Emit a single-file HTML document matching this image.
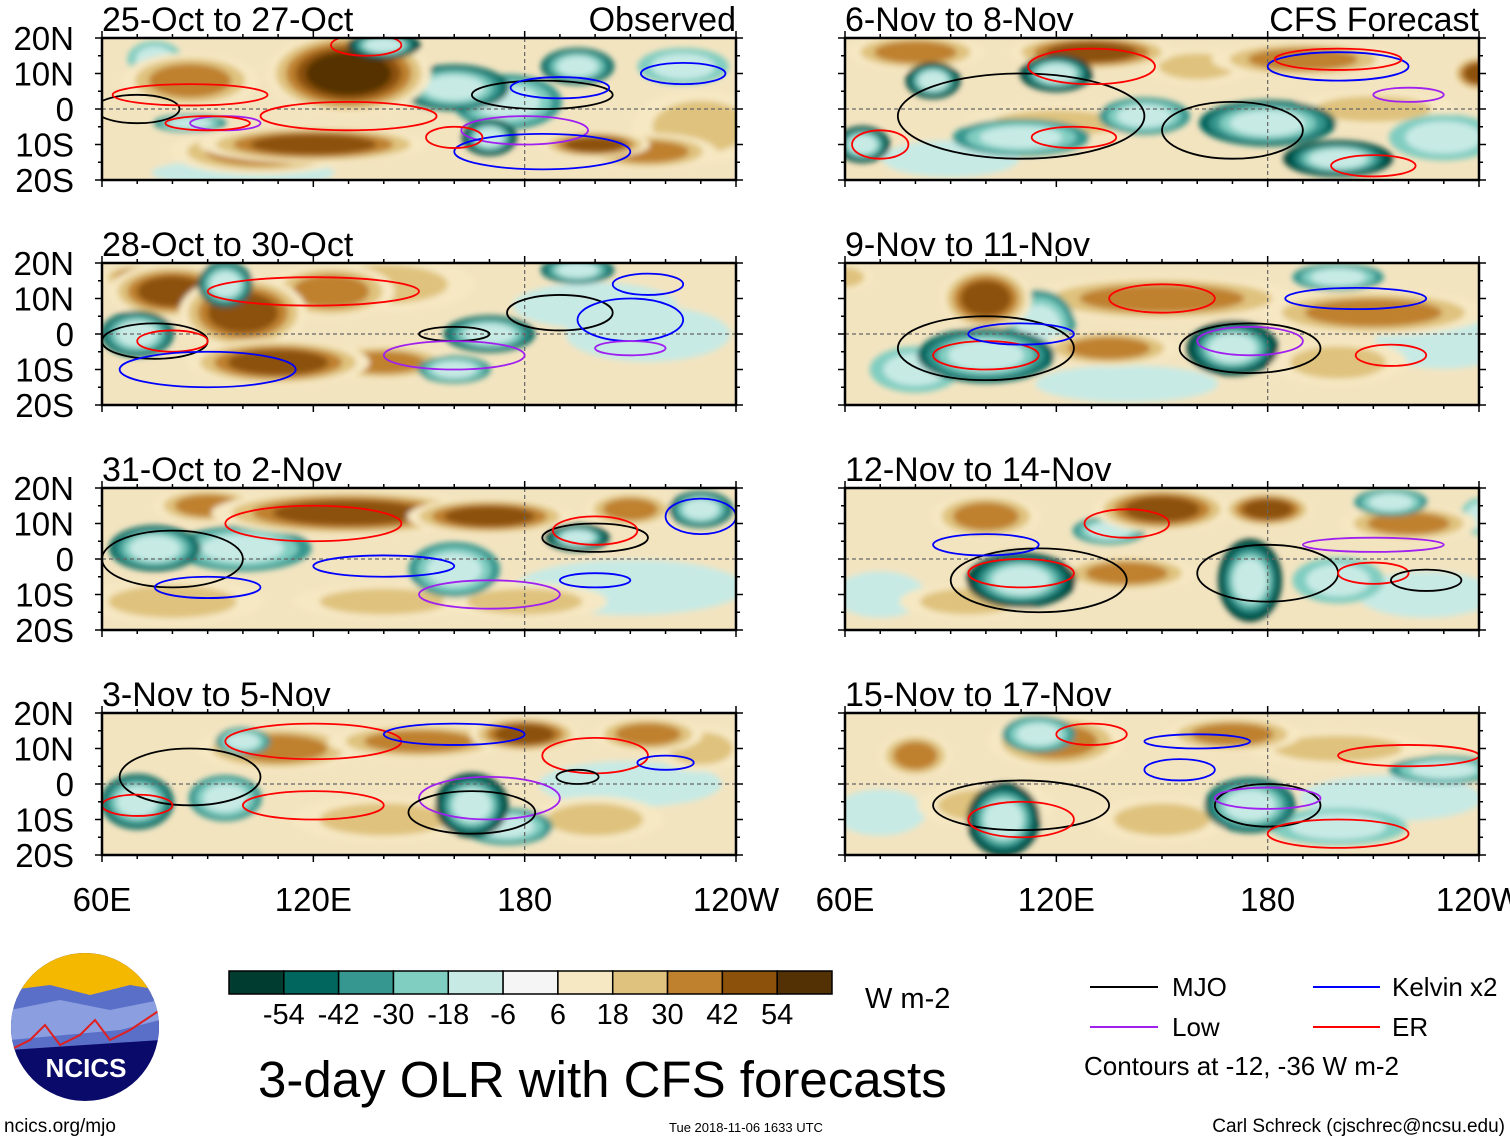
<!DOCTYPE html>
<html><head><meta charset="utf-8">
<style>
body{margin:0;background:#fff;width:1510px;height:1142px;overflow:hidden;font-family:"Liberation Sans",sans-serif}
svg text{font-family:"Liberation Sans",sans-serif}
</style></head>
<body>
<svg id="chart" width="1510" height="1142" xmlns="http://www.w3.org/2000/svg">
<defs>
<filter id="blur" x="-20%" y="-20%" width="140%" height="140%"><feGaussianBlur stdDeviation="3"/></filter>
</defs>
<g id="panels"></g>
<g id="legend">
<line x1="1090" y1="987" x2="1158" y2="987" stroke="#000" stroke-width="2"/>
<text x="1172" y="996" font-size="26">MJO</text>
<line x1="1313" y1="987" x2="1380" y2="987" stroke="#0000ff" stroke-width="2"/>
<text x="1392" y="996" font-size="26">Kelvin x2</text>
<line x1="1090" y1="1027" x2="1158" y2="1027" stroke="#a020f0" stroke-width="2"/>
<text x="1172" y="1036" font-size="26">Low</text>
<line x1="1313" y1="1027" x2="1380" y2="1027" stroke="#ff0000" stroke-width="2"/>
<text x="1392" y="1036" font-size="26">ER</text>
<text x="1084" y="1075" font-size="26">Contours at -12, -36 W m-2</text>
</g>
<g id="colorbar"></g>
<text x="865" y="1008" font-size="29">W m-2</text>
<text x="258" y="1097" font-size="51">3-day OLR with CFS forecasts</text>
<text x="4" y="1132" font-size="19">ncics.org/mjo</text>
<text x="669" y="1132" font-size="13">Tue 2018-11-06 1633 UTC</text>
<text x="1505" y="1132" font-size="19" text-anchor="end">Carl Schreck (cjschrec@ncsu.edu)</text>
<g id="logo">
<clipPath id="lc"><ellipse cx="85" cy="1027" rx="74" ry="74"/></clipPath>
<g clip-path="url(#lc)">
<rect x="10" y="952" width="150" height="150" fill="#0a0a6a"/>
<rect x="10" y="952" width="150" height="45" fill="#f5b800"/>
<polygon points="10,990 50,985 90,995 130,985 160,990 160,1040 10,1050" fill="#5a6fc8"/>
<polygon points="10,1010 60,1000 110,1010 160,1000 160,1020 120,1030 10,1040" fill="#8a9ee0"/>
<polyline points="10,1050 30,1040 45,1025 60,1045 80,1035 95,1020 110,1040 130,1030 160,1010" fill="none" stroke="#e02020" stroke-width="2"/>
</g>
<text x="86" y="1077" font-size="26" font-weight="bold" fill="#fff" text-anchor="middle">NCICS</text>
</g>
</svg>
<script>
const cbLevels = [-54,-42,-30,-18,-6,6,18,30,42,54];
const cbColors = ["#003c30","#01665e","#35978f","#80cdc1","#c7eae5","#f5f5f5","#f6e8c3","#dfc27d","#bf812d","#8c510a","#543005"];
const panelTitles = ["25-Oct to 27-Oct","28-Oct to 30-Oct","31-Oct to 2-Nov","3-Nov to 5-Nov","6-Nov to 8-Nov","9-Nov to 11-Nov","12-Nov to 14-Nov","15-Nov to 17-Nov"];
const latTicks = ["20N","10N","0","10S","20S"];
const lonTicks = ["60E","120E","180","120W"];
// blobs: [lon, lat, value, halfWidthDeg, halfHeightDeg]
const blobs0 = [[85,8,30,15,6],[130,10,54,18,9],[120,-10,42,25,4],[105,-12,30,20,5],[140,18,-54,8,3],[160,6,-42,12,5],[170,-8,-54,6,4],[175,2,-30,12,6],[195,12,-42,8,4],[200,-10,42,12,3],[215,-12,30,15,4],[230,-5,18,15,8],[85,-4,-30,8,2],[75,14,-18,6,4],[100,-18,-6,20,3],[225,12,-18,10,4]];
const blobs1 = [[80,12,42,14,6],[100,6,42,14,8],[125,12,30,14,6],[110,-8,42,20,5],[140,-8,30,15,4],[70,0,-42,8,5],[95,14,-42,6,5],[170,0,-42,10,4],[195,18,-42,8,3],[160,-10,-30,8,3],[140,14,18,20,6],[215,0,-6,18,6],[70,16,30,8,3],[200,8,-6,18,5]];
const blobs2 = [[130,13,42,30,5],[170,12,42,18,4],[110,13,30,15,4],[90,15,30,12,4],[75,3,-42,10,5],[100,3,-30,15,5],[160,-3,-30,10,6],[195,6,-54,7,3],[230,14,-42,7,4],[210,14,30,10,4],[80,-12,18,20,5],[140,-12,18,20,4],[180,-12,18,18,4],[210,-8,-6,25,6]];
const blobs3 = [[110,10,30,18,5],[150,12,30,20,4],[180,14,42,12,4],[215,14,30,12,4],[70,-5,-42,8,6],[95,-4,-30,8,5],[165,-6,-54,8,7],[175,-12,-30,10,4],[100,12,-30,6,3],[140,-10,18,20,5],[200,-10,18,15,5],[230,10,18,10,5],[210,0,-6,20,5]];
const blobs4 = [[80,16,30,15,4],[130,16,42,18,4],[190,14,30,20,4],[240,10,42,6,4],[85,8,-54,6,4],[120,10,-54,8,4],[145,-2,-30,10,4],[180,-4,-42,15,5],[200,-14,-54,12,4],[65,-10,-54,6,4],[110,-8,-30,15,4],[120,-4,18,20,4],[210,0,18,18,4],[160,12,18,12,4],[230,-8,-18,12,5],[90,-14,-6,15,4]];
const blobs5 = [[100,10,42,10,7],[150,10,30,30,5],[210,6,30,25,5],[100,-6,-42,15,6],[115,2,-30,8,8],[170,-4,-54,10,6],[200,16,-30,10,3],[135,-4,30,15,4],[80,-10,-18,10,5],[200,-8,18,15,5],[60,16,18,6,3],[230,-2,-6,15,6],[140,-14,-6,20,4]];
const blobs6 = [[100,12,30,12,5],[150,14,42,15,5],[180,14,42,10,4],[220,10,30,15,4],[110,-6,-54,12,6],[175,-6,-54,7,9],[200,-6,-18,10,5],[135,8,-30,8,3],[215,16,-30,8,3],[140,-4,30,15,4],[95,-12,18,15,4],[240,12,-18,4,4],[225,-10,-6,15,5],[70,-10,-6,10,5]];
const blobs7 = [[120,12,30,15,6],[170,14,30,15,4],[80,8,30,8,5],[100,-6,18,15,5],[105,-10,-54,8,8],[175,-6,-42,10,6],[115,14,-30,8,4],[230,4,-30,12,3],[200,-12,-18,15,4],[150,-10,18,15,5],[200,10,18,20,4],[215,-4,-6,20,5],[70,-8,-6,10,5]];
const allBlobs = [blobs0,blobs1,blobs2,blobs3,blobs4,blobs5,blobs6,blobs7];
// contours: [lon, lat, halfWidthDeg, halfHeightDeg, type]
const cont0 = [[70,0,12,4,"m"],[85,4,22,3,"e"],[95,-4,10,2,"l"],[90,-4,12,2,"e"],[130,-2,25,4,"e"],[135,18,10,3,"e"],[185,4,20,4,"m"],[190,6,14,3,"k"],[180,-6,18,4,"l"],[185,-12,25,5,"k"],[160,-8,8,3,"e"],[225,10,12,3,"k"]];
const cont1 = [[75,-2,15,5,"m"],[80,-2,10,3,"e"],[120,12,30,4,"e"],[190,6,15,5,"m"],[210,4,15,6,"k"],[160,0,10,2,"m"],[210,-4,10,2,"l"],[160,-6,20,4,"l"],[90,-10,25,5,"k"],[215,14,10,3,"k"]];
const cont2 = [[80,0,20,8,"m"],[120,10,25,5,"e"],[200,6,15,4,"m"],[200,8,12,4,"e"],[140,-2,20,3,"k"],[170,-10,20,4,"l"],[90,-8,15,3,"k"],[200,-6,10,2,"k"],[230,12,10,5,"k"]];
const cont3 = [[85,2,20,8,"m"],[120,12,25,5,"e"],[200,8,15,5,"e"],[160,14,20,3,"k"],[170,-4,20,6,"l"],[165,-8,18,6,"m"],[120,-6,20,4,"e"],[70,-6,10,3,"e"],[195,2,6,2,"m"],[220,6,8,2,"k"]];
const cont4 = [[110,-2,35,12,"m"],[170,-6,20,8,"m"],[130,12,18,5,"e"],[200,12,20,4,"k"],[200,14,18,3,"e"],[220,4,10,2,"l"],[125,-8,12,3,"e"],[210,-16,12,3,"e"],[70,-10,8,4,"e"]];
const cont5 = [[100,-4,25,9,"m"],[175,-4,20,7,"m"],[150,10,15,4,"e"],[205,10,20,3,"k"],[100,-6,15,4,"e"],[215,-6,10,3,"e"],[110,0,15,3,"k"],[175,-2,15,4,"l"]];
const cont6 = [[115,-6,25,9,"m"],[180,-4,20,8,"m"],[140,10,12,4,"e"],[210,-4,10,3,"e"],[210,4,20,2,"l"],[100,4,15,3,"k"],[110,-4,15,4,"e"],[225,-6,10,3,"m"]];
const cont7 = [[110,-6,25,7,"m"],[180,-6,15,6,"m"],[110,-10,15,5,"e"],[130,14,10,3,"e"],[155,4,10,3,"k"],[160,12,15,2,"k"],[220,8,20,3,"e"],[180,-4,15,3,"l"],[200,-14,20,4,"e"]];
const allConts = [cont0,cont1,cont2,cont3,cont4,cont5,cont6,cont7];

const NS="http://www.w3.org/2000/svg";
function mk(tag,attrs,parent){const e=document.createElementNS(NS,tag);for(const k in attrs)e.setAttribute(k,attrs[k]);if(parent)parent.appendChild(e);return e;}
function colorFor(v){let i=0;while(i<cbLevels.length&&v>cbLevels[i])i++;return cbColors[i];}
const PW=634,PH=142;
const contColor={m:"#000",k:"#0000ff",l:"#a020f0",e:"#ff0000"};
const panelsG=document.getElementById('panels');
for(let p=0;p<8;p++){
  const col=Math.floor(p/4),row=p%4;
  const x0=col?845:102, y0=[38,263,488,713][row];
  const xs=lon=>x0+(lon-60)/180*PW;
  const ys=lat=>y0+(20-lat)/40*PH;
  const g=mk('g',{},panelsG);
  
  
  const cid='clip'+p;
  const cp=mk('clipPath',{id:cid},g);mk('rect',{x:x0,y:y0,width:PW,height:PH},cp);
  const inner=mk('g',{'clip-path':'url(#'+cid+')'},g);
  mk('rect',{x:x0,y:y0,width:PW,height:PH,fill:"#f3e4c0"},inner);
  const bg=mk('g',{filter:'url(#blur)'},inner);
  const bl=allBlobs[p].slice().sort((a,b)=>Math.abs(a[2])-Math.abs(b[2]));
  for(const b of bl){
    const steps=cbLevels.filter(l=> b[2]>0 ? (l>0&&l<=b[2]) : (l<0&&l>=b[2]));
    const n=Math.max(1,steps.length);
    for(let s=0;s<n;s++){
      const f=1.3*(1-0.6*s/n);
      const val=b[2]>0?steps[s]+1:steps[s]-1;
      const e=mk('ellipse',{cx:xs(b[0]),cy:ys(b[1]),rx:b[3]*PW/180*f,ry:b[4]*PH/40*f,fill:colorFor(val)},bg);
      
      
    }
  }
  mk('line',{x1:x0,y1:ys(0),x2:x0+PW,y2:ys(0),stroke:"#666","stroke-dasharray":"4,3","stroke-width":1.2},inner);
  mk('line',{x1:xs(180),y1:y0,x2:xs(180),y2:y0+PH,stroke:"#666","stroke-dasharray":"4,3","stroke-width":1.2},inner);
  for(const c of allConts[p]){
    const e=mk('ellipse',{cx:xs(c[0]),cy:ys(c[1]),rx:c[2]*PW/180,ry:c[3]*PH/40,fill:"none",stroke:contColor[c[4]],"stroke-width":1.8},inner);
    
    
  }
  mk('rect',{x:x0,y:y0,width:PW,height:PH,fill:"none",stroke:"#000","stroke-width":2.5},g);
  for(let lon=60;lon<=240;lon+=10){const big=lon%60===0;
    mk('line',{x1:xs(lon),y1:y0,x2:xs(lon),y2:y0-(big?7:4),stroke:"#000","stroke-width":1.5},g);
    mk('line',{x1:xs(lon),y1:y0+PH,x2:xs(lon),y2:y0+PH+(big?7:4),stroke:"#000","stroke-width":1.5},g);}
  for(let lat=-20;lat<=20;lat+=5){const big=lat%10===0;
    mk('line',{x1:x0,y1:ys(lat),x2:x0-(big?7:4),y2:ys(lat),stroke:"#000","stroke-width":1.5},g);
    mk('line',{x1:x0+PW,y1:ys(lat),x2:x0+PW+(big?7:4),y2:ys(lat),stroke:"#000","stroke-width":1.5},g);}
  const t=mk('text',{x:x0,y:y0-7,"font-size":34},g);t.textContent=panelTitles[p];
  
  if(row===0){const r=mk('text',{x:x0+PW,y:y0-7,"font-size":34,"text-anchor":"end"},g);r.textContent=col?"CFS Forecast":"Observed";
    }
  if(col===0){latTicks.forEach((l,i)=>{const tt=mk('text',{x:74,y:ys(20-i*10)+12,"font-size":33,"text-anchor":"end"},g);tt.textContent=l;
    });}
  if(row===3){lonTicks.forEach((l,i)=>{const tt=mk('text',{x:xs(60+i*60),y:911,"font-size":33,"text-anchor":"middle"},g);tt.textContent=l;
    });}
}
const cb=document.getElementById('colorbar');
const bw=(832-229)/cbColors.length;
cbColors.forEach((c,i)=>{const r=mk('rect',{x:229+i*bw,y:971,width:bw,height:23,fill:c,stroke:"#000","stroke-width":1.5},cb);
  });
cbLevels.forEach((l,i)=>{const t=mk('text',{x:229+(i+1)*bw,y:1024,"font-size":29,"text-anchor":"middle"},cb);t.textContent=l;
  });
</script>
</body></html>
